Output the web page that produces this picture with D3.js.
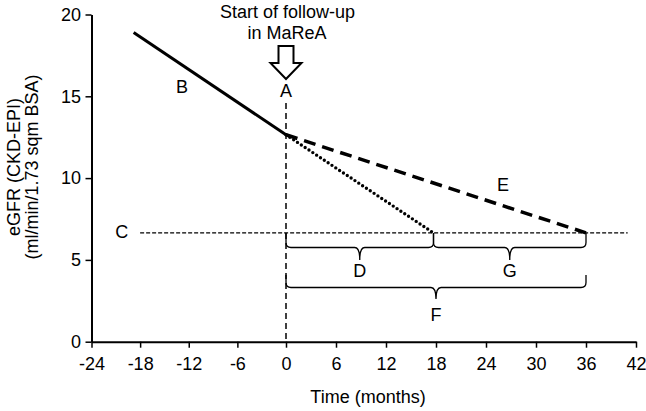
<!DOCTYPE html>
<html>
<head>
<meta charset="utf-8">
<script src="https://cdn.jsdelivr.net/npm/d3@7"></script>
<style>
  body { margin: 0; background: #fff; }
  svg { font-family: Arial, "Liberation Sans", sans-serif; }
</style>
</head>
<body>
<script>
// axis ticks
const monthTicks = [-24, -18, -12, -6, 0, 6, 12, 18, 24, 30, 36, 42];
const gfrTicks = [0, 5, 10, 15, 20];

// eGFR trajectories (months, eGFR)
const preFollowUp = [[-18.8, 18.9], [0, 12.65]];      // B
const fastDecline = [[0, 12.65], [17.7, 6.65]];       // dotted
const slowDecline = [[0, 12.65], [36, 6.65]];         // E
const dialysisLevel = 6.65;                           // C
const dialysisSpan = [-18, 41];

// braces under the threshold line
const braceLabels = ["D", "G", "F"];
const braceFrom = [0, 17.7, 0];
const braceTo = [17.7, 36, 36];

const W = 646, H = 411;

const svg = d3.select("body").append("svg")
    .attr("width", W)
    .attr("height", H);

// x scale is not uniform in the original, so use a polylinear scale
const x = d3.scaleLinear()
    .domain([-24, 0, 42])
    .range([91.5, 286, 636]);

const y = d3.scaleLinear()
    .domain([0, 20])
    .range([341.7, 14.5]);

// axes (plain hyphen for negatives, like the original)
const xAxis = svg.append("g")
    .attr("transform", `translate(0,${y(0)})`)
    .call(d3.axisBottom(x).tickValues(monthTicks).tickFormat(d => String(d))
        .tickSize(6).tickSizeOuter(0).tickPadding(10));

const yAxis = svg.append("g")
    .attr("transform", `translate(${x(-24)},0)`)
    .call(d3.axisLeft(y).tickValues(gfrTicks).tickFormat(d => String(d))
        .tickSize(6).tickSizeOuter(0).tickPadding(4.5));

[xAxis, yAxis].forEach(g => {
    g.select(".domain").attr("stroke", "#000").attr("stroke-width", 2);
    g.selectAll(".tick line").attr("stroke", "#000").attr("stroke-width", 1.5);
    g.selectAll(".tick text")
        .attr("fill", "#000")
        .attr("font-size", 18)
        .attr("font-family", "Arial, 'Liberation Sans', sans-serif");
});

// axis titles
svg.append("text")
    .attr("x", 368)
    .attr("y", 403)
    .attr("text-anchor", "middle")
    .attr("font-size", 18)
    .text("Time (months)");

const yTitle = svg.append("g").attr("transform", "translate(20,167) rotate(-90)");
yTitle.append("text")
    .attr("text-anchor", "middle")
    .attr("font-size", 18)
    .text("eGFR (CKD-EPI)");
yTitle.append("text")
    .attr("text-anchor", "middle")
    .attr("y", 18)
    .attr("font-size", 18)
    .text("(ml/min/1.73 sqm BSA)");

// threshold line C
svg.append("line")
    .attr("x1", x(dialysisSpan[0]))
    .attr("x2", x(dialysisSpan[1]))
    .attr("y1", y(dialysisLevel))
    .attr("y2", y(dialysisLevel))
    .attr("stroke", "#000")
    .attr("stroke-width", 1.3)
    .attr("stroke-dasharray", "4,2");

// vertical start-of-follow-up line
svg.append("line")
    .attr("x1", x(0))
    .attr("x2", x(0))
    .attr("y1", 103)
    .attr("y2", y(0))
    .attr("stroke", "#000")
    .attr("stroke-width", 1.5)
    .attr("stroke-dasharray", "6,4");

const line = d3.line().x(d => x(d[0])).y(d => y(d[1]));

svg.append("path")
    .attr("d", line(preFollowUp))
    .attr("fill", "none")
    .attr("stroke", "#000")
    .attr("stroke-width", 3);

svg.append("path")
    .attr("d", line(slowDecline))
    .attr("fill", "none")
    .attr("stroke", "#000")
    .attr("stroke-width", 3.5)
    .attr("stroke-dasharray", "12,7");

svg.append("path")
    .attr("d", line(fastDecline))
    .attr("fill", "none")
    .attr("stroke", "#000")
    .attr("stroke-width", 3.4)
    .attr("stroke-linecap", "round")
    .attr("stroke-dasharray", "0,4.6");

// curly brace path
function brace(x0, x1, yTop, yMid, yTip) {
    const xm = (x0 + x1) / 2;
    const r = 5;
    return `M${x0},${yTop} L${x0},${yMid - r} Q${x0},${yMid} ${x0 + r},${yMid}` +
        ` L${xm - r},${yMid} Q${xm},${yMid} ${xm},${yTip}` +
        ` Q${xm},${yMid} ${xm + r},${yMid} L${x1 - r},${yMid} Q${x1},${yMid} ${x1},${yMid - r} L${x1},${yTop}`;
}

const braceG = svg.append("g");
braceLabels.forEach((lab, i) => {
    const top = lab === "F" ? 275 : y(dialysisLevel);
    const mid = lab === "F" ? 287.5 : 247.5;
    const tip = lab === "F" ? 299 : 260;
    braceG.append("path")
        .attr("d", brace(x(braceFrom[i]), x(braceTo[i]), top, mid, tip))
        .attr("fill", "none")
        .attr("stroke", "#000")
        .attr("stroke-width", 1.3);
    braceG.append("text")
        .attr("x", (x(braceFrom[i]) + x(braceTo[i])) / 2)
        .attr("y", lab === "F" ? 320.7 : 277)
        .attr("text-anchor", "middle")
        .attr("font-size", 18)
        .text(lab);
});

// letter annotations
const notes = [
    { t: "A", px: 286, py: 97 },
    { t: "B", px: 182, py: 93.3 },
    { t: "C", px: 121.7, py: 238 },
    { t: "E", px: 503, py: 190.7 }
];
svg.selectAll(".note")
    .data(notes)
    .enter().append("text")
    .attr("class", "note")
    .attr("x", d => d.px)
    .attr("y", d => d.py)
    .attr("text-anchor", "middle")
    .attr("font-size", 18)
    .text(d => d.t);

// heading + hollow arrow
svg.append("text")
    .attr("x", 287.5)
    .attr("y", 17.5)
    .attr("text-anchor", "middle")
    .attr("font-size", 18)
    .text("Start of follow-up");
svg.append("text")
    .attr("x", 287)
    .attr("y", 39)
    .attr("text-anchor", "middle")
    .attr("font-size", 18)
    .text("in MaReA");

const ax = x(0);
svg.append("path")
    .attr("d", `M${ax - 7.5},46 L${ax + 7.5},46 L${ax + 7.5},63 L${ax + 15.5},63 L${ax},79 L${ax - 15.5},63 L${ax - 7.5},63 Z`)
    .attr("fill", "#fff")
    .attr("stroke", "#000")
    .attr("stroke-width", 2);
</script>
</body>
</html>
